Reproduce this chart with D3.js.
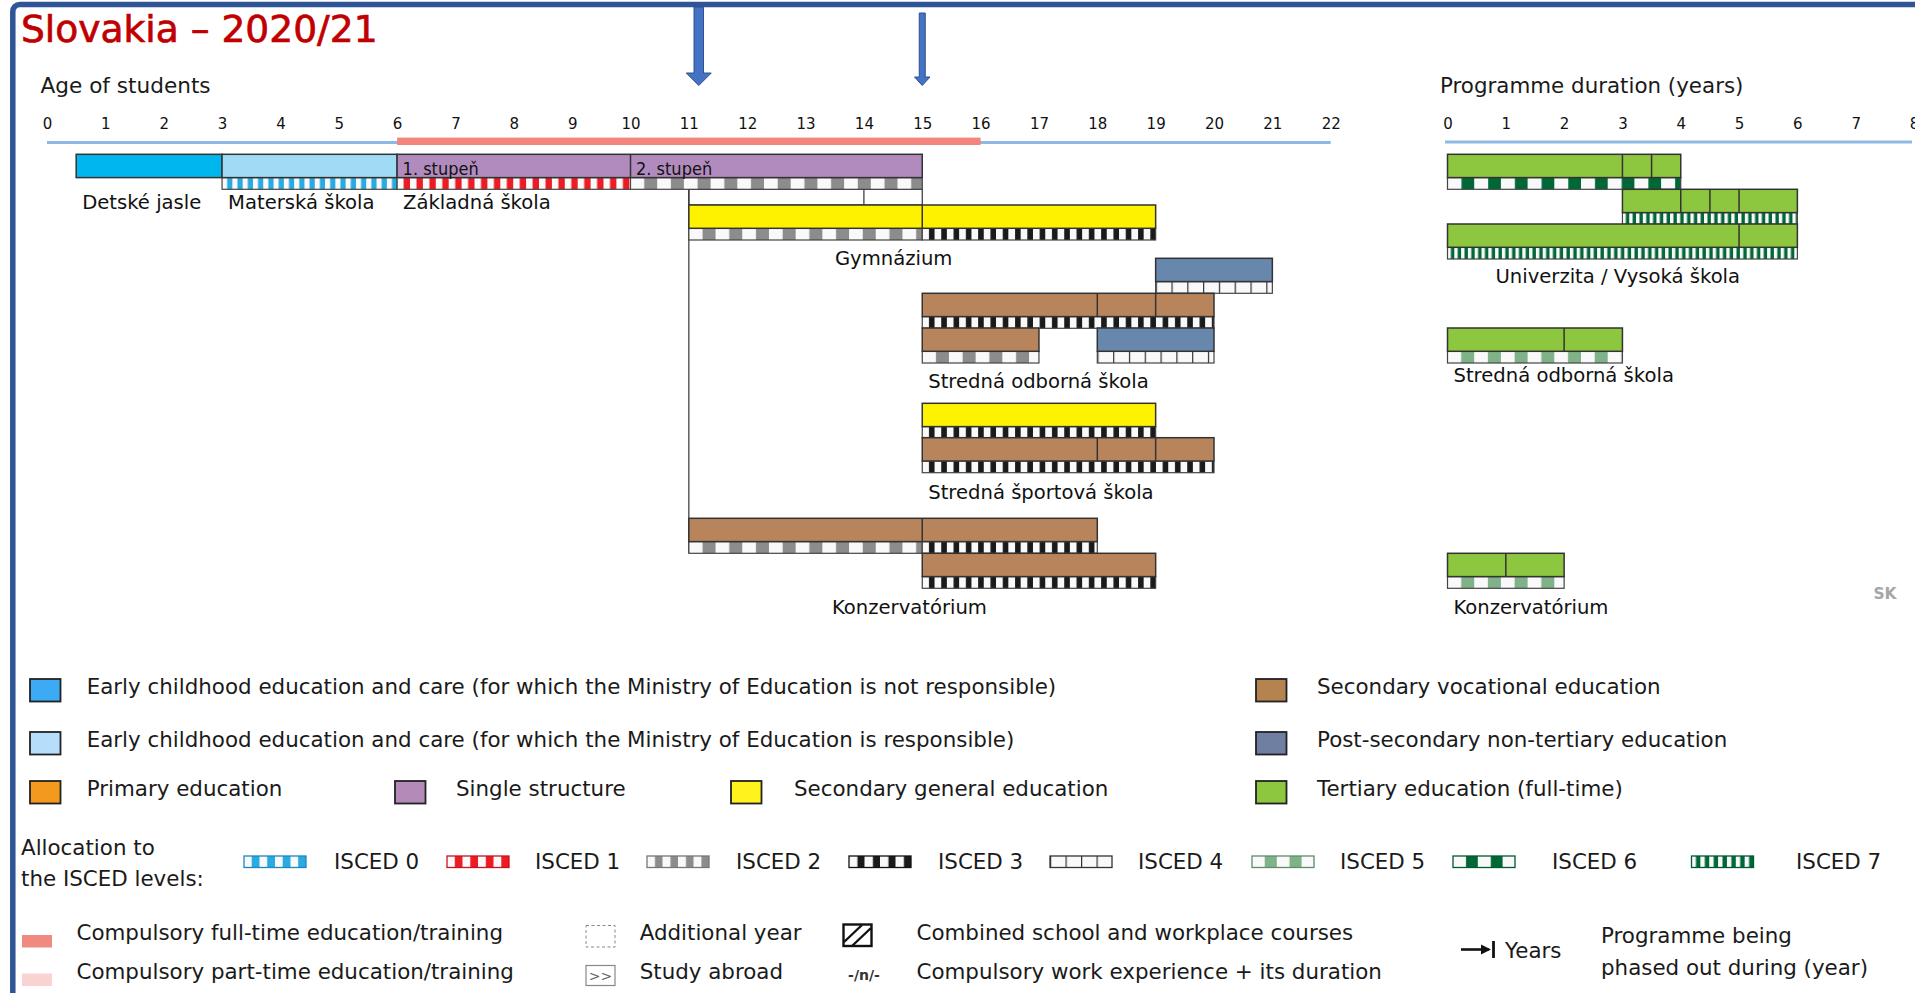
<!DOCTYPE html>
<html><head><meta charset="utf-8">
<script src="https://cdn.jsdelivr.net/npm/d3@7"></script>
<style>
html,body{margin:0;padding:0;background:#fff;overflow:hidden}
svg{display:block}
</style></head><body>
<svg id="chart" width="1915" height="993"></svg>
<script>
// ================= DATA =================
const titleText = "Slovakia – 2020/21";
const ageAxisTitle = "Age of students";
const durationAxisTitle = "Programme duration (years)";
const ageTicks = d3.range(0, 23);          // 0 … 22
const durationTicks = d3.range(0, 9);      // 0 … 8
const compulsoryFullTime = [6, 16];        // ages
const markerAges = [11.17, 15];            // blue arrows on top

// programmes on the age axis: start/end age, level type, ISCED segments [from,to,level], dividers
const agePrograms = [
  {row:"main", start:0.5, end:3,  type:"ecec_no", isced:[], dividers:[]},
  {row:"main", start:3,   end:6,  type:"ecec",    isced:[[3,6,0]], dividers:[]},
  {row:"main", start:6,   end:15, type:"single",  isced:[[6,10,1],[10,15,2]], dividers:[10]},
  {row:"gym",  start:11,  end:19, type:"secgen",  isced:[[11,15,2],[15,19,3]], dividers:[15]},
  {row:"post", start:19,  end:21, type:"postsec", isced:[[19,21,4]], dividers:[]},
  {row:"sos1", start:15,  end:20, type:"secvoc",  isced:[[15,20,3]], dividers:[18,19]},
  {row:"sos2", start:15,  end:17, type:"secvoc",  isced:[[15,17,2]], dividers:[]},
  {row:"sos2", start:18,  end:20, type:"postsec", isced:[[18,20,4]], dividers:[]},
  {row:"sss1", start:15,  end:19, type:"secgen",  isced:[[15,19,3]], dividers:[]},
  {row:"sss2", start:15,  end:20, type:"secvoc",  isced:[[15,20,3]], dividers:[18,19]},
  {row:"kon1", start:11,  end:18, type:"secvoc",  isced:[[11,15,2],[15,18,3]], dividers:[15]},
  {row:"kon2", start:15,  end:19, type:"secvoc",  isced:[[15,19,3]], dividers:[]}
];
// programmes on the duration axis (years)
const durationPrograms = [
  {row:"main", start:0, end:4, type:"tert", isced:[[0,4,6]], dividers:[3,3.5]},
  {row:"u2",   start:3, end:6, type:"tert", isced:[[3,6,7]], dividers:[4,4.5,5]},
  {row:"u3",   start:0, end:6, type:"tert", isced:[[0,6,7]], dividers:[5]},
  {row:"sos2", start:0, end:3, type:"tert", isced:[[0,3,5]], dividers:[2]},
  {row:"kon2", start:0, end:2, type:"tert", isced:[[0,2,5]], dividers:[1]}
];
// pathway lines: vertical line at age 11, box between ages 11-15 with divider at 14
const pathwayLineAge = 11;
const pathwayBox = [11, 15];
const pathwayBoxDivider = 14;

const stageLabels = [{text:"1. stupeň", at:6}, {text:"2. stupeň", at:10}];
const programmeLabels = [
  {key:"main", axis:"age", at:0.5,  text:"Detské jasle"},
  {key:"main", axis:"age", at:3,    text:"Materská škola"},
  {key:"main", axis:"age", at:6,    text:"Základná škola"},
  {key:"gym",  axis:"age", at:13.4, text:"Gymnázium"},
  {key:"sos",  axis:"age", at:15,   text:"Stredná odborná škola"},
  {key:"sss",  axis:"age", at:15,   text:"Stredná športová škola"},
  {key:"kon",  axis:"age", at:13.35,text:"Konzervatórium"},
  {key:"uni",  axis:"dur", at:0.72, text:"Univerzita / Vysoká škola"},
  {key:"tsos", axis:"dur", at:0,    text:"Stredná odborná škola"},
  {key:"kon",  axis:"dur", at:0,    text:"Konzervatórium"}
];
const countryCode = "SK";

const legendLevels = [
  {key:"ecec_no", label:"Early childhood education and care (for which the Ministry of Education is not responsible)"},
  {key:"secvoc",  label:"Secondary vocational education"},
  {key:"ecec",    label:"Early childhood education and care (for which the Ministry of Education is responsible)"},
  {key:"postsec", label:"Post-secondary non-tertiary education"},
  {key:"primary", label:"Primary education"},
  {key:"single",  label:"Single structure"},
  {key:"secgen",  label:"Secondary general education"},
  {key:"tert",    label:"Tertiary education (full-time)"}
];
const iscedLevels = [0,1,2,3,4,5,6,7];
const iscedLegendTitle = ["Allocation to", "the ISCED levels:"];
const miscLegend = [
  {key:"cft",  label:"Compulsory full-time education/training"},
  {key:"cpt",  label:"Compulsory part-time education/training"},
  {key:"add",  label:"Additional year"},
  {key:"abr",  label:"Study abroad"},
  {key:"comb", label:"Combined school and workplace courses"},
  {key:"work", label:"Compulsory work experience + its duration"}
];
const yearsLabel = "Years";
const phasedOutLabel = ["Programme being", "phased out during (year)"];

// ================= STYLE / LAYOUT =================
const W = 1915, H = 993;
const FONT = '"DejaVu Sans", Verdana, sans-serif';
const NARROW = '"Liberation Sans Narrow", "DejaVu Sans Condensed", "Arial Narrow", sans-serif';
const barColor = {ecec_no:"#00b6ef", ecec:"#a0dbf5", single:"#b18bbd", secgen:"#fff200",
  secvoc:"#b8845b", postsec:"#6787ad", tert:"#8dc63f", primary:"#f39a1e"};
const legendColor = {ecec_no:"#3caaf4", ecec:"#b6ddfa", primary:"#f39a1e", single:"#b48ab8",
  secgen:"#fff21d", secvoc:"#b5834f", postsec:"#6e7fa1", tert:"#8dc63f"};
const iscedStyle = {
  0:{color:"#29abe2", stroke:"#1f86c4", period:10.3, w:5.2, leg:4},
  1:{color:"#ed1c24", stroke:"#c4161c", period:12.9, w:6.4, leg:4},
  2:{color:"#8c8c8c", stroke:"#777",    period:26.7, w:13,  leg:4},
  3:{color:"#1a1a1a", stroke:"#111",    period:12.3, w:5.6, leg:4},
  4:{color:"#333",    stroke:"#333",    period:15.8, w:1.2, leg:4, line:true},
  5:{color:"#80b28a", stroke:"#5f8d6a", period:26.7, w:13,  leg:2.5},
  6:{color:"#006837", stroke:"#005a2f", period:26.7, w:12.7,leg:2.5},
  7:{color:"#006837", stroke:"#005a2f", period:6.8,  w:3.4, leg:7}
};
const rowTop = {main:154.3, u2:189.3, gym:205, u3:224, post:258.3, sos1:293.3, sos2:328,
  sss1:403.3, sss2:437.7, kon1:518.3, kon2:553.3};
const barH = 23.3, stripeH = 11.7;
const labelBaseline = {main:208.5, gym:265, sos:388, sss:499, kon:613.5, uni:283, tsos:382};

const xAge = d3.scaleLinear().domain([0, 22]).range([47, 1330.7]);
const xDur = d3.scaleLinear().domain([0, 8]).range([1447.5, 1914]);

const svg = d3.select("#chart").attr("width", W).attr("height", H)
  .style("font-family", FONT);
const defs = svg.append("defs");
svg.append("rect").attr("width", W).attr("height", H).attr("fill", "#fff");

// frame
svg.append("rect").attr("x", 12.8).attr("y", 4.5).attr("width", 3000).attr("height", 3000)
  .attr("rx", 7).attr("fill", "none").attr("stroke", "#2f5597").attr("stroke-width", 5.5);

// title
svg.append("text").attr("x", 21).attr("y", 42).text(titleText)
  .attr("font-size", 37.6).attr("fill", "#c00000").attr("stroke", "#c00000").attr("stroke-width", 0.7);

// axis titles
svg.append("text").attr("x", 40.5).attr("y", 93).text(ageAxisTitle)
  .attr("font-size", 21.6).attr("fill", "#1a1a1a");
svg.append("text").attr("x", 1440).attr("y", 93).text(durationAxisTitle)
  .attr("font-size", 21.4).attr("fill", "#1a1a1a");

// axes
function styleAxis(g) {
  g.select(".domain").remove();
  g.selectAll("text").attr("font-family", FONT).attr("font-size", 15).attr("fill", "#111");
}
svg.append("g").attr("transform", "translate(0,129)")
  .call(d3.axisTop(xAge).tickValues(ageTicks).tickSize(0).tickPadding(0).tickFormat(d3.format("d")))
  .call(styleAxis);
svg.append("g").attr("transform", "translate(0,129)")
  .call(d3.axisTop(xDur).tickValues(durationTicks).tickSize(0).tickPadding(0).tickFormat(d3.format("d")))
  .call(styleAxis);

// axis base lines
svg.append("line").attr("x1", xAge(0)).attr("x2", xAge(22)).attr("y1", 142.6).attr("y2", 142.6)
  .attr("stroke", "#8fb8e6").attr("stroke-width", 3);
svg.append("rect").attr("x", xAge(compulsoryFullTime[0])).attr("y", 137.6)
  .attr("width", xAge(compulsoryFullTime[1]) - xAge(compulsoryFullTime[0])).attr("height", 7.4)
  .attr("fill", "#f4857d");
svg.append("line").attr("x1", xDur(0) - 2.5).attr("x2", 1912).attr("y1", 142).attr("y2", 142)
  .attr("stroke", "#8fb8e6").attr("stroke-width", 3);

// blue arrows
const arrowSpec = [{shaft:9.5, head:25, top:7, base:73, tip:85.5}, {shaft:6, head:15.5, top:13, base:77, tip:85.5}];
markerAges.forEach((a, i) => {
  const s = arrowSpec[i], cx = xAge(a);
  const pts = [[cx - s.shaft/2, s.top], [cx + s.shaft/2, s.top], [cx + s.shaft/2, s.base], [cx + s.head/2, s.base],
    [cx, s.tip], [cx - s.head/2, s.base], [cx - s.shaft/2, s.base]];
  svg.append("polygon").attr("points", pts.map(p => p.join(",")).join(" "))
    .attr("fill", "#4472c4").attr("stroke", "#2f528f").attr("stroke-width", 1);
});

// patterns
let patId = 0;
function makePattern(level, x0, y0, period) {
  const st = iscedStyle[level];
  const id = "pat" + (patId++);
  const p = defs.append("pattern").attr("id", id).attr("patternUnits", "userSpaceOnUse")
    .attr("x", x0).attr("y", y0).attr("width", period).attr("height", 40);
  p.append("rect").attr("width", period).attr("height", 40).attr("fill", "#f9f9f9");
  if (st.line) {
    p.append("rect").attr("x", 0).attr("width", st.w).attr("height", 40).attr("fill", st.color);
  } else {
    const w = st.w * period / st.period;
    p.append("rect").attr("x", period - w).attr("width", w).attr("height", 40).attr("fill", st.color);
  }
  return "url(#" + id + ")";
}

// pathway connectors (behind bars)
const gPath = svg.append("g");
gPath.append("rect").attr("x", xAge(pathwayBox[0])).attr("y", rowTop.main + barH + stripeH)
  .attr("width", xAge(pathwayBox[1]) - xAge(pathwayBox[0])).attr("height", rowTop.gym - (rowTop.main + barH + stripeH))
  .attr("fill", "#fff").attr("stroke", "#333").attr("stroke-width", 1.2);
gPath.append("line").attr("x1", xAge(pathwayBoxDivider)).attr("x2", xAge(pathwayBoxDivider))
  .attr("y1", rowTop.main + barH + stripeH).attr("y2", rowTop.gym).attr("stroke", "#333").attr("stroke-width", 1.2);
gPath.append("line").attr("x1", xAge(pathwayLineAge)).attr("x2", xAge(pathwayLineAge))
  .attr("y1", rowTop.main + barH + stripeH).attr("y2", rowTop.kon1 + barH + stripeH)
  .attr("stroke", "#333").attr("stroke-width", 1.2);

// bars
function drawProgram(g, p, x) {
  const y0 = rowTop[p.row];
  p.isced.forEach(([a, b, lev]) => {
    g.append("rect").attr("x", x(a)).attr("y", y0 + barH).attr("width", x(b) - x(a)).attr("height", stripeH)
      .attr("fill", makePattern(lev, x(a), y0 + barH, iscedStyle[lev].period))
      .attr("stroke", "#444").attr("stroke-width", 1.2);
  });
  g.append("rect").attr("x", x(p.start)).attr("y", y0).attr("width", x(p.end) - x(p.start)).attr("height", barH)
    .attr("fill", barColor[p.type]).attr("stroke", "#333").attr("stroke-width", 1.5);
  p.dividers.forEach(d => {
    g.append("line").attr("x1", x(d)).attr("x2", x(d)).attr("y1", y0).attr("y2", y0 + barH)
      .attr("stroke", "#333").attr("stroke-width", 1.5);
  });
}
const gBars = svg.append("g");
agePrograms.forEach(p => drawProgram(gBars, p, xAge));
durationPrograms.forEach(p => drawProgram(gBars, p, xDur));

// stage labels inside the single structure bar
stageLabels.forEach(s => {
  svg.append("text").attr("x", xAge(s.at) + 5.5).attr("y", 175).text(s.text)
    .attr("font-family", NARROW).attr("font-stretch", "condensed").attr("font-size", 18).attr("fill", "#111");
});

// programme labels
programmeLabels.forEach(l => {
  const x = l.axis === "age" ? xAge(l.at) : xDur(l.at);
  svg.append("text").attr("x", x + 6).attr("y", labelBaseline[l.key]).text(l.text)
    .attr("font-size", 19.6).attr("fill", "#111");
});
svg.append("text").attr("x", 1885).attr("y", 599).attr("text-anchor", "middle").text(countryCode)
  .attr("font-size", 15.5).attr("font-weight", "bold").attr("fill", "#a6a6a6");

// ================= LEGEND =================
const LFS = 21.4;
const legendPos = {ecec_no:[30,679,86.7], secvoc:[1256,679,1317], ecec:[30,732,86.7], postsec:[1256,732,1317],
  primary:[30,781,86.7], single:[395,781,456], secgen:[731,781,794], tert:[1256,781,1317]};
legendLevels.forEach(d => {
  const [sx, sy, tx] = legendPos[d.key];
  svg.append("rect").attr("x", sx).attr("y", sy).attr("width", 30.5).attr("height", 22.5)
    .attr("fill", legendColor[d.key]).attr("stroke", "#222").attr("stroke-width", 1.8);
  svg.append("text").attr("x", tx).attr("y", sy + 15).text(d.label).attr("font-size", LFS).attr("fill", "#1a1a1a");
});

// ISCED legend
svg.append("text").attr("x", 21).attr("y", 854.5).text(iscedLegendTitle[0]).attr("font-size", LFS).attr("fill", "#1a1a1a");
svg.append("text").attr("x", 21).attr("y", 886).text(iscedLegendTitle[1]).attr("font-size", LFS).attr("fill", "#1a1a1a");
const iscedBoxX = [244, 447, 647, 849, 1050, 1252, 1453, 1691.5];
const iscedTextX = [334, 535, 736, 938, 1138, 1340, 1552, 1796];
iscedLevels.forEach((lev, i) => {
  const st = iscedStyle[lev], bw = 62, bx = iscedBoxX[i], by = 856;
  const period = bw / st.leg;
  const fill = makePattern(lev, bx, by, period);
  svg.append("rect").attr("x", bx).attr("y", by).attr("width", bw).attr("height", 11.5)
    .attr("fill", fill).attr("stroke", st.stroke).attr("stroke-width", 1.3);
  svg.append("text").attr("x", iscedTextX[i]).attr("y", 869).text("ISCED " + lev)
    .attr("font-size", LFS).attr("fill", "#1a1a1a");
});

// misc legend
const misc = {};
miscLegend.forEach(d => misc[d.key] = d.label);
svg.append("rect").attr("x", 22).attr("y", 935).attr("width", 30).attr("height", 12.5).attr("fill", "#f08a80");
svg.append("text").attr("x", 76.5).attr("y", 939.5).text(misc.cft).attr("font-size", LFS).attr("fill", "#1a1a1a");
svg.append("rect").attr("x", 22).attr("y", 973.5).attr("width", 30).attr("height", 12.5).attr("fill", "#f9d2d2");
svg.append("text").attr("x", 76.5).attr("y", 978.5).text(misc.cpt).attr("font-size", LFS).attr("fill", "#1a1a1a");

svg.append("rect").attr("x", 586).attr("y", 925.5).attr("width", 29).attr("height", 21.5)
  .attr("fill", "none").attr("stroke", "#888").attr("stroke-width", 1).attr("stroke-dasharray", "3,2.5");
svg.append("text").attr("x", 639.7).attr("y", 939.5).text(misc.add).attr("font-size", LFS).attr("fill", "#1a1a1a");
svg.append("rect").attr("x", 586).attr("y", 965.5).attr("width", 29).attr("height", 20)
  .attr("fill", "none").attr("stroke", "#888").attr("stroke-width", 1.2);
svg.append("text").attr("x", 600.5).attr("y", 981).attr("text-anchor", "middle").text(">>")
  .attr("font-size", 14).attr("fill", "#666");
svg.append("text").attr("x", 639.7).attr("y", 978.5).text(misc.abr).attr("font-size", LFS).attr("fill", "#1a1a1a");

svg.append("rect").attr("x", 843.5).attr("y", 924.5).attr("width", 28).attr("height", 21.5)
  .attr("fill", "#fff").attr("stroke", "#111").attr("stroke-width", 2.4);
svg.append("line").attr("x1", 844).attr("y1", 942).attr("x2", 862).attr("y2", 925)
  .attr("stroke", "#111").attr("stroke-width", 2.4);
svg.append("line").attr("x1", 852).attr("y1", 946).attr("x2", 871).attr("y2", 928)
  .attr("stroke", "#111").attr("stroke-width", 2.4);
svg.append("text").attr("x", 916.5).attr("y", 939.5).text(misc.comb).attr("font-size", LFS).attr("fill", "#1a1a1a");
svg.append("text").attr("x", 864).attr("y", 980).attr("text-anchor", "middle").text("-/n/-")
  .attr("font-size", 14).attr("font-weight", "bold").attr("fill", "#333");
svg.append("text").attr("x", 916.5).attr("y", 978.5).text(misc.work).attr("font-size", LFS).attr("fill", "#1a1a1a");

// years arrow
defs.append("marker").attr("id", "ah").attr("viewBox", "0 0 10 10").attr("refX", 8).attr("refY", 5)
  .attr("markerWidth", 4).attr("markerHeight", 4).attr("orient", "auto")
  .append("path").attr("d", "M0,0L10,5L0,10z").attr("fill", "#111");
svg.append("line").attr("x1", 1461).attr("y1", 949.5).attr("x2", 1489).attr("y2", 949.5)
  .attr("stroke", "#111").attr("stroke-width", 2.6).attr("marker-end", "url(#ah)");
svg.append("line").attr("x1", 1493.5).attr("y1", 941).attr("x2", 1493.5).attr("y2", 958)
  .attr("stroke", "#111").attr("stroke-width", 2.8);
svg.append("text").attr("x", 1505).attr("y", 958).text(yearsLabel).attr("font-size", LFS).attr("fill", "#1a1a1a");
svg.append("text").attr("x", 1601).attr("y", 942.5).text(phasedOutLabel[0]).attr("font-size", LFS).attr("fill", "#1a1a1a");
svg.append("text").attr("x", 1601).attr("y", 974.5).text(phasedOutLabel[1]).attr("font-size", LFS).attr("fill", "#1a1a1a");
</script>
</body></html>
